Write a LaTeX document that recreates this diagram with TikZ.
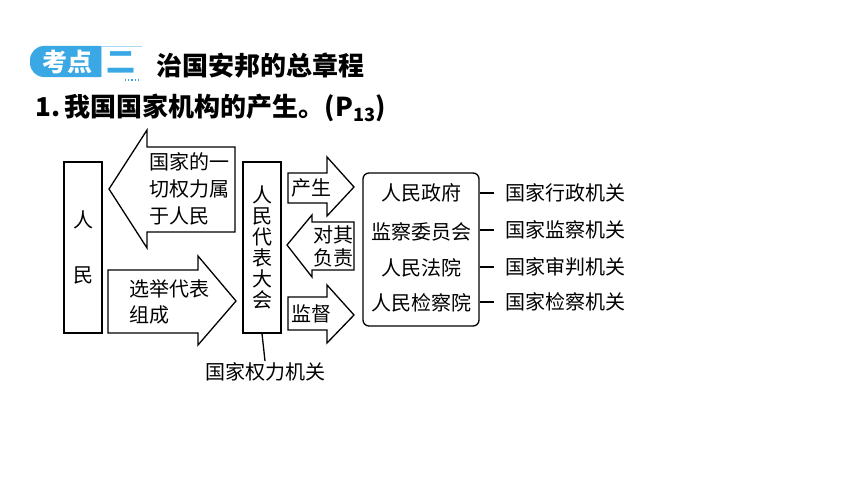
\documentclass[tikz,border=0pt]{standalone}
\usepackage{fontspec}
\setmainfont{Noto Sans CJK SC}
\usetikzlibrary{calc}

\definecolor{kdblue}{HTML}{3AA8E4}
\definecolor{kdlight}{HTML}{A9DAF3}

\begin{document}
\begin{tikzpicture}[x=1pt, y=-1pt, line width=1.3pt,
  txt/.style={font=\fontsize{20}{22}\selectfont, inner sep=1pt},
  headtxt/.style={font=\fontsize{26}{28}\selectfont\bfseries, inner sep=0pt, anchor=west},
  tallbox/.style={draw, minimum width=38pt, minimum height=171pt, inner sep=0pt, align=center}]

\useasboundingbox (0,0) rectangle (861,487);

% Header badge
\fill[kdblue, rounded corners=14pt] (30,46) rectangle (120,77);
\fill[white] (101,45) rectangle (143,78);
\draw[kdlight, line width=1.6pt] (101,46.5) -- (142,46.5);
\draw[kdlight, line width=0.8pt] (101,47) -- (101,77);
\node[font=\fontsize{25}{27}\selectfont\bfseries, text=white, inner sep=0pt] (kaodian) at (67,62) {考点};
\node[font=\fontsize{29}{31}\selectfont\bfseries, text=kdblue, inner sep=0pt] (er) at (121,62) {二};
\draw[kdblue, line width=1.2pt, dotted] (125,80) -- (141,80);

% Titles
\node[headtxt] (title) at (156,66) {治国安邦的总章程};
\node[headtxt] (subtitle) at (35,108) {1.\,我国国家机构的产生。(P\textsubscript{13})};

% People and congress
\node[tallbox, font=\fontsize{20}{55}\selectfont] (renmin) at (83,247.5) {人\\民};
\node[tallbox, font=\fontsize{20}{21}\selectfont] (rendai) at (262,247.5) {人\\民\\代\\表\\大\\会};
\node[txt] (quanli) at (265,372) {国家权力机关};
\draw (rendai.south) -- (quanli.north);

% Block arrows
\draw (235,147) -- (147,147) -- (147,130) -- (109,189) -- (147,248) -- (147,232) -- (235,232) -- cycle;
\node[txt, align=left, anchor=north west, font=\fontsize{20}{27}\selectfont] (shuyu) at (148,151) {国家的一\\切权力属\\于人民};

\draw (108,270) -- (198,270) -- (198,256) -- (236,301) -- (198,345) -- (198,333) -- (108,333) -- cycle;
\node[txt, align=left, anchor=north west, font=\fontsize{20}{26}\selectfont] (xuanju) at (128,278) {选举代表\\组成};

\draw (288,173) -- (327,173) -- (327,157) -- (354,187) -- (327,216) -- (327,203) -- (288,203) -- cycle;
\node[txt] (chansheng) at (311,188) {产生};

\draw (354,222) -- (312,222) -- (312,215) -- (287,245) -- (312,277) -- (312,270) -- (354,270) -- cycle;
\node[txt, align=center, font=\fontsize{20}{23}\selectfont] (fuze) at (333,246) {对其\\负责};

\draw (288,297) -- (327,297) -- (327,285) -- (354,315) -- (327,343) -- (327,330) -- (288,330) -- cycle;
\node[txt] (jiandu) at (311,314) {监督};

% State organs
\node[draw, rounded corners=6pt, minimum width=116pt, minimum height=153pt] (jiguan) at (421,249.5) {};
\node[txt] (zhengfu) at (421,193) {人民政府};
\node[txt] (jianwei) at (421,232) {监察委员会};
\node[txt] (fayuan) at (421,268) {人民法院};
\node[txt] (jianchayuan) at (421,303) {人民检察院};

\foreach \org/\lbl/\yy in {zhengfu/国家行政机关/193, jianwei/国家监察机关/230, fayuan/国家审判机关/267, jianchayuan/国家检察机关/302}
{
\node[txt, anchor=west, inner sep=0pt] (\org-l) at (505,\yy) {\lbl};
\draw (jiguan.east |- \org-l.west) -- ([xshift=-11pt]\org-l.west);
}

\end{tikzpicture}
\end{document}
